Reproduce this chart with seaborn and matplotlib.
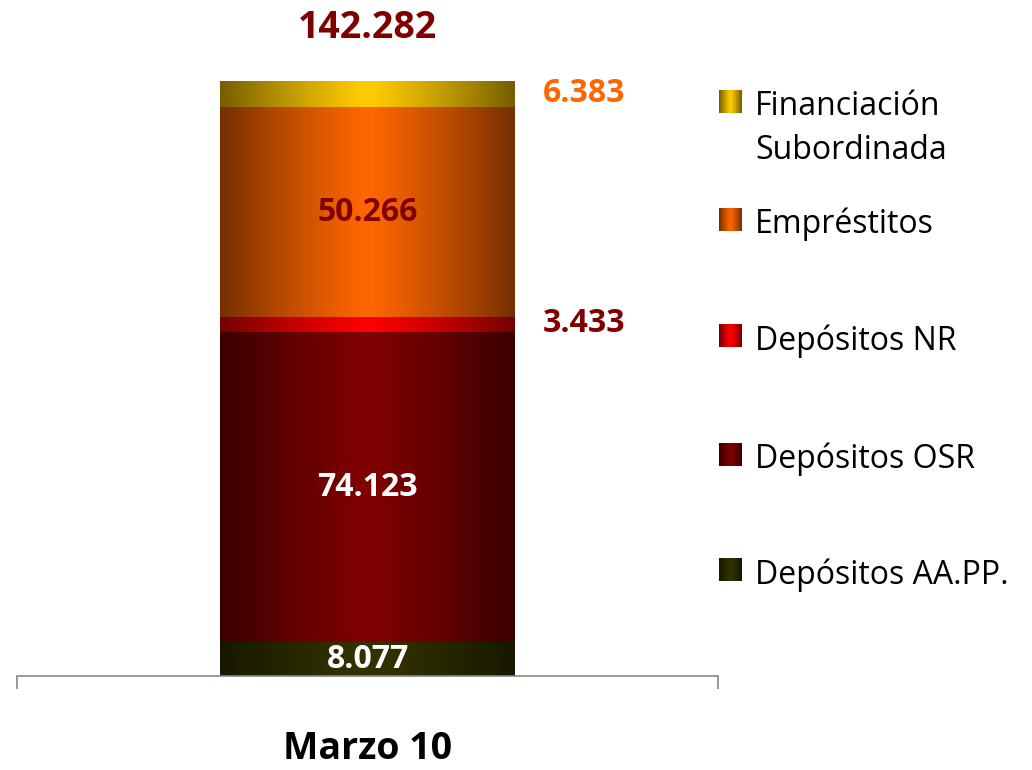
import numpy as np
import pandas as pd
import matplotlib
matplotlib.use('Agg')
import matplotlib.pyplot as plt
import seaborn as sns
from matplotlib.colors import to_rgb

# ---------------- data ----------------
categories = ['Marzo 10']
series = ['Depósitos AA.PP.', 'Depósitos OSR', 'Depósitos NR', 'Empréstitos',
          'Financiación Subordinada']
legend_lines = [['Depósitos AA.PP.'], ['Depósitos OSR'], ['Depósitos NR'],
                ['Empréstitos'], ['Financiación', 'Subordinada']]
values = [8077, 74123, 3433, 50266, 6383]
value_labels = ['8.077', '74.123', '3.433', '50.266', '6.383']
total_label = '142.282'

# ---------------- style ----------------
center_colors = ['#333300', '#800000', '#FF0000', '#FF6600', '#FFCC00']
label_colors = ['white', 'white', '#800000', '#800000', '#FF6600']
label_inside = [True, True, False, True, False]
EDGE = 0.46

sns.set_theme(style='white')
plt.rcParams['font.family'] = ['Open Sans', 'DejaVu Sans']

W, H = 1032, 770
fig = plt.figure(figsize=(W / 100, H / 100), dpi=100)
ax = fig.add_axes([17 / W, 1 - 676 / H, 701 / W, 669 / H])


def gradient(color, n=256):
    c = np.array(to_rgb(color))
    t = np.abs(np.linspace(-1, 1, n))
    f = 1 - (t ** 1.2) * (1 - EDGE)
    return (f[:, None] * c[None, :])[None, :, :]


cum = np.cumsum(values)
df = pd.DataFrame({'cat': categories * len(series), 'series': series, 'top': cum})

order = list(range(len(series) - 1, -1, -1))
for i in order:
    sns.barplot(data=df.iloc[[i]], x='cat', y='top', color=center_colors[i],
                width=0.42, saturation=1, ax=ax, zorder=1)

for k, i in enumerate(order):
    p = ax.patches[k]
    p.set_facecolor('none')
    p.set_edgecolor('none')
    x0, w = p.get_x(), p.get_width()
    top = p.get_height()
    bottom = cum[i - 1] if i > 0 else 0
    ax.imshow(gradient(center_colors[i]), extent=(x0, x0 + w, bottom, top),
              aspect='auto', interpolation='bilinear', zorder=2 + k)

ax.set_xlim(-0.5, 0.5)
ax.set_ylim(0, 160000)

# value labels
for i in range(len(series)):
    bottom = cum[i - 1] if i > 0 else 0
    mid = (bottom + cum[i]) / 2
    if label_inside[i]:
        ax.text(0, mid, value_labels[i], ha='center', va='center', fontsize=23,
                fontweight='bold', color=label_colors[i], zorder=20, clip_on=False)
    else:
        ax.annotate(value_labels[i], xy=(0.25, mid), xytext=(0, 1),
                    textcoords='offset points', ha='left', va='center',
                    fontsize=23, fontweight='bold', color=label_colors[i],
                    zorder=20, annotation_clip=False)

ax.annotate(total_label, xy=(0, cum[-1]), xytext=(0, 38), textcoords='offset points',
            ha='center', va='center', fontsize=27, fontweight='bold',
            color='#800000', zorder=20, annotation_clip=False)

# axes styling
for s in ['left', 'right', 'top']:
    ax.spines[s].set_visible(False)
ax.spines['bottom'].set_color('#868686')
ax.spines['bottom'].set_linewidth(1.2)
ax.spines['bottom'].set_zorder(10)
ax.set_yticks([])
ax.set_ylabel('')
ax.set_xlabel('')
ax.set_xticks([-0.5, 0.5], labels=['', ''])
ax.tick_params(axis='x', which='major', direction='out', length=9, width=1.2,
               color='#868686', bottom=True)
ax.set_xticks([0], labels=categories, minor=True)
ax.tick_params(axis='x', which='minor', length=0, pad=39, labelcolor='black',
               bottom=True)
for t in ax.get_xticklabels(minor=True):
    t.set_fontweight('bold')
    t.set_fontsize(27)

# manual legend (top entry first)
lax = fig.add_axes([0, 0, 1, 1])
lax.set_xlim(0, W)
lax.set_ylim(H, 0)
lax.axis('off')
leg_centers = [570, 455, 336, 219.5, 101.5]
for i in range(len(series)):
    yc = leg_centers[i]
    lax.imshow(gradient(center_colors[i], 32), extent=(719, 742, yc + 11.5, yc - 11.5),
               aspect='auto', interpolation='bilinear')
    for j, line in enumerate(legend_lines[i]):
        lax.text(755, yc + 13.5 + j * 44, line, ha='left', va='baseline',
                 fontsize=23, color='black')
lax.set_xlim(0, W)
lax.set_ylim(H, 0)

fig.savefig('out.png', dpi=100)
